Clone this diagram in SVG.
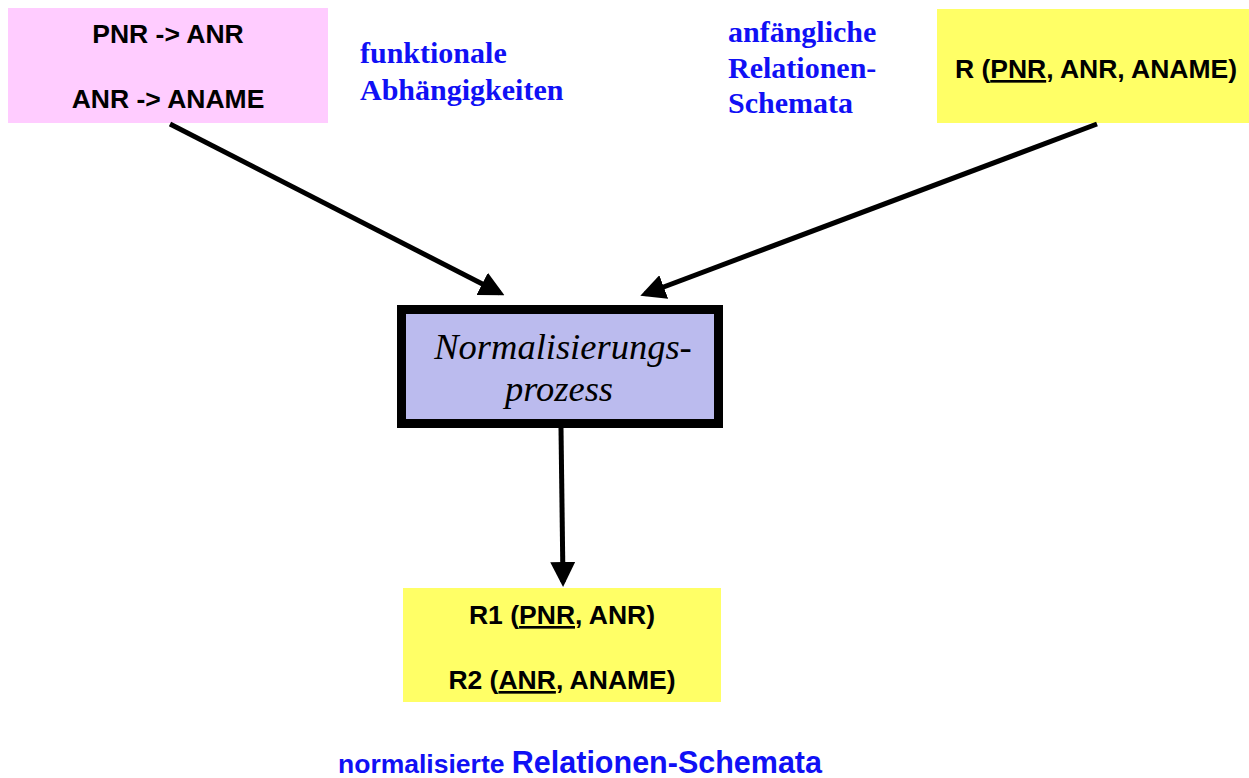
<svg xmlns="http://www.w3.org/2000/svg" width="1249" height="778" viewBox="0 0 1249 778">
<style>
.b{font-family:"Liberation Sans",Arial,sans-serif;font-weight:bold;font-size:26.5px;fill:#000;text-anchor:middle}
.l{font-family:"Liberation Serif","Times New Roman",serif;font-weight:bold;font-size:30px;fill:#1010F5}
.i{font-family:"Liberation Serif","Times New Roman",serif;font-style:italic;font-size:36.5px;fill:#000;text-anchor:middle}
.c{stroke:#000;stroke-width:5;fill:none;marker-end:url(#ah)}
</style>
<defs>
<marker id="ah" markerWidth="5" markerHeight="5" refX="4" refY="2.5" orient="auto" markerUnits="strokeWidth">
<path d="M0,0 L5,2.5 L0,5 Z" fill="#000"/>
</marker>
</defs>
<rect width="1249" height="778" fill="#fff"/>
<g id="fd">
<rect x="8" y="8" width="320" height="115" fill="#FFCCFF"/>
<text class="b" x="168" y="43">PNR -&gt; ANR</text>
<text class="b" x="168" y="108">ANR -&gt; ANAME</text>
</g>
<g id="fd-label">
<text class="l" x="360" y="63">funktionale</text>
<text class="l" x="360" y="100">Abhängigkeiten</text>
</g>
<g id="init-label">
<text class="l" x="728" y="42">anfängliche</text>
<text class="l" x="728" y="78">Relationen-</text>
<text class="l" x="728" y="113">Schemata</text>
</g>
<g id="r">
<rect x="937" y="9" width="312" height="114" fill="#FFFF66"/>
<text class="b" x="1096" y="78">R (<tspan text-decoration="underline">PNR</tspan>, ANR, ANAME)</text>
</g>
<g id="proc">
<rect x="401.5" y="309.5" width="317" height="114" fill="#BBBBEE" stroke="#000" stroke-width="9"/>
<text class="i" x="563" y="359">Normalisierungs-</text>
<text class="i" x="559" y="401">prozess</text>
</g>
<g id="res">
<rect x="403" y="588" width="318" height="114" fill="#FFFF66"/>
<text class="b" x="562" y="624">R1 (<tspan text-decoration="underline">PNR</tspan>, ANR)</text>
<text class="b" x="562" y="689">R2 (<tspan text-decoration="underline">ANR</tspan>, ANAME)</text>
</g>
<g id="res-label">
<text x="580" y="773" font-family="Liberation Sans,Arial,sans-serif" font-weight="bold" fill="#1010F5" text-anchor="middle"><tspan font-size="26.5">normalisierte </tspan><tspan font-size="30.5">Relationen-Schemata</tspan></text>
</g>
<g id="connectors">
<line class="c" x1="170" y1="124" x2="500" y2="293"/>
<line class="c" x1="1097" y1="124" x2="645" y2="294"/>
<line class="c" x1="561" y1="428" x2="563" y2="582"/>
</g>
</svg>
